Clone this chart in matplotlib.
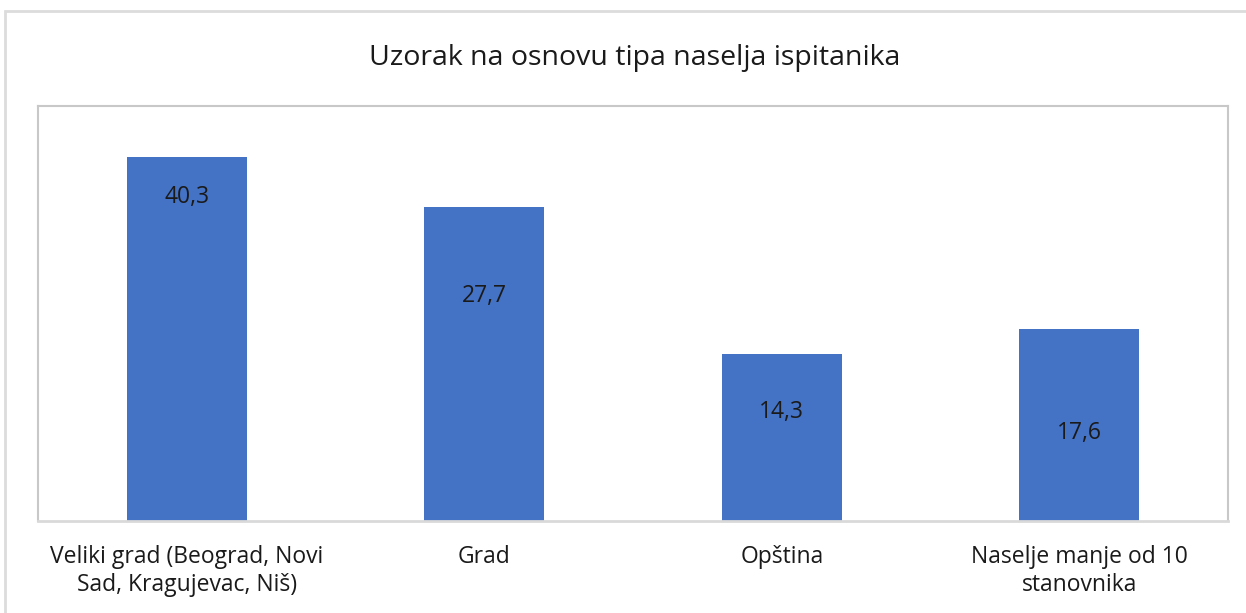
import matplotlib.pyplot as plt
from matplotlib.patches import Rectangle

categories = ["Veliki grad (Beograd, Novi\nSad, Kragujevac, Niš)", "Grad", "Opština",
              "Naselje manje od 10\nstanovnika"]
labels = ["40,3", "27,7", "14,3", "17,6"]
# bar heights as drawn (they are not proportional to the labels in the original)
heights = [39.5, 34.1, 18.1, 20.8]
label_y = [35.1, 24.4, 11.8, 9.5]

plt.rcParams['font.family'] = ['Open Sans', 'DejaVu Sans']

fig = plt.figure(figsize=(12.46, 6.13), dpi=100)
W, H = 1246, 613
ax = fig.add_axes([38 / W, 1 - 521 / H, (1228 - 38) / W, (521 - 106) / H])

x = range(len(categories))
ax.bar(x, heights, width=0.403, color="#4472C4", zorder=2)
for i, lab in enumerate(labels):
  ax.text(i, label_y[i], lab, ha="center", va="center", fontsize=16.5, color="#1a1a1a", zorder=3)

ax.set_xlim(-0.5, 3.5)
ax.set_ylim(0, 45)
ax.set_yticks([])
ax.set_xticks(list(x))
ax.set_xticklabels(categories, fontsize=16.5, color="#1a1a1a", linespacing=1.25)
ax.tick_params(axis="x", length=0, pad=17)
for s in ["left", "top", "right"]:
  ax.spines[s].set_color("#c8c8c8")
  ax.spines[s].set_linewidth(1.5)
ax.spines["bottom"].set_color("#d9d9d9")
ax.spines["bottom"].set_linewidth(2)

# outer chart frame
fig.patches.append(Rectangle((5 / W, -0.1), 1.2, 1 - 11 / H + 0.1, transform=fig.transFigure,
                             fill=False, edgecolor="#dcdcdc", linewidth=2))

fig.text(635 / W, 1 - 58 / H, "Uzorak na osnovu tipa naselja ispitanika", ha="center", va="center",
         fontsize=20.5, color="#1a1a1a")

fig.savefig("out.png", dpi=100)
